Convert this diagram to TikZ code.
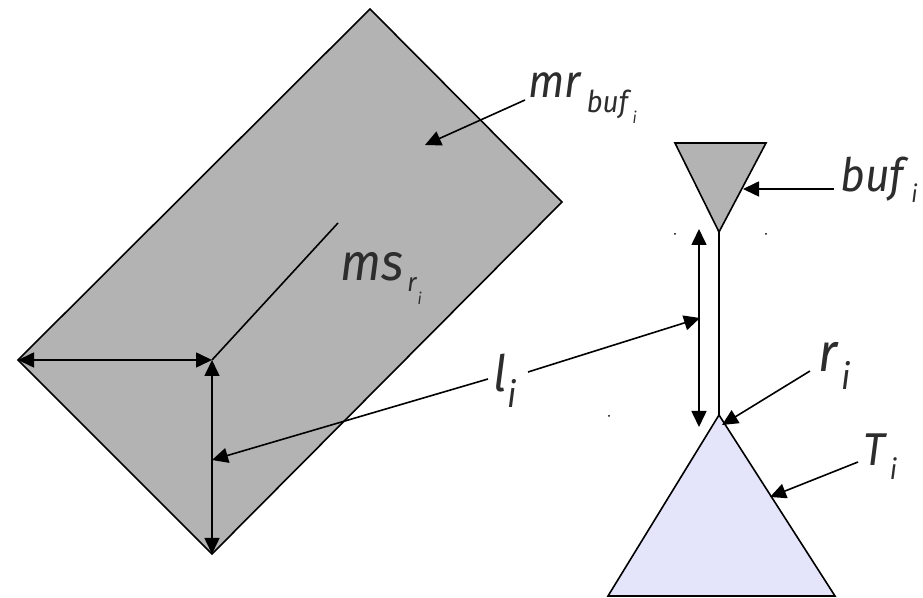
\documentclass[tikz,border=0pt]{standalone}
\usepackage{fontspec}
\setmainfont{Fira Sans}
\usepackage{graphicx}
\usetikzlibrary{arrows.meta}
\definecolor{regiongray}{RGB}{179,179,179}
\definecolor{treeblue}{RGB}{228,228,250}
\definecolor{labelgray}{RGB}{45,45,45}
% subscript: gap, drop, size, text
\newcommand{\sublbl}[4]{\hspace{#1}\raisebox{-#2}{\fontsize{#3}{#3}\selectfont #4}}
\newcommand{\narrowlbl}[1]{\scalebox{0.93}[1]{#1}}

\begin{document}
\begin{tikzpicture}[
    x=0.5pt, y=-0.5pt,
    region/.style={draw, line width=0.8pt, line join=miter},
    arrow/.style={-{Triangle[length=8pt,width=7.5pt]}, line width=0.8pt},
    biarrow/.style={{Triangle[length=8pt,width=7.5pt]}-{Triangle[length=8pt,width=7.5pt]}, line width=0.8pt},
    lbl/.style={inner sep=0pt, anchor=base west, text=labelgray, font=\itshape}
  ]
    \useasboundingbox (0,0) rectangle (923,598);

    % memory region of the buffer
    \coordinate (mr-top) at (370,9);
    \coordinate (mr-right) at (562,202);
    \coordinate (mr-bottom) at (212,554);
    \coordinate (mr-left) at (18,360);
    \coordinate (mr-corner) at (212,360);
    \coordinate (ms-end) at (338,223);
    \coordinate (mr-target) at (425,145);
    \filldraw[region, fill=regiongray] (mr-top) -- (mr-right) -- (mr-bottom) -- (mr-left) -- cycle;
    \draw[line width=0.8pt] (ms-end) -- (mr-corner);
    \draw[biarrow] (mr-left) -- (mr-corner);
    \draw[biarrow] (mr-corner) -- (mr-bottom);
    \coordinate (l-target-left) at (212,460);

    % buffer and its link to the tree
    \coordinate (buf-left) at (675,143);
    \coordinate (buf-right) at (766,143);
    \coordinate (buf-tip) at (719,232);
    \coordinate (buf-target) at (743,189);
    \filldraw[region, fill=regiongray] (buf-left) -- (buf-right) -- (buf-tip) -- cycle;

    \coordinate (tree-top) at (719,415);
    \coordinate (tree-left) at (608,596);
    \coordinate (tree-right) at (835,596);
    \coordinate (tree-target) at (770,497);
    \coordinate (root-target) at (722,425);
    \filldraw[region, fill=treeblue] (tree-top) -- (tree-right) -- (tree-left) -- cycle;
    \draw[line width=0.8pt] (buf-tip) -- (tree-top);

    \coordinate (l-top) at (699,229);
    \coordinate (l-bottom) at (699,427);
    \coordinate (l-target-right) at (700,318);
    \draw[biarrow] (l-top) -- (l-bottom);

    \fill (675,234) circle (1);
    \fill (766,234) circle (1);
    \fill (609,416) circle (1);

    % labels
    \node[lbl, font=\itshape\fontsize{26}{26}\selectfont] (ms-label) at (340,281)
      {\narrowlbl{ms\sublbl{2pt}{5.5pt}{13pt}{r\sublbl{0.5pt}{6.5pt}{8pt}{i}}}};
    \node[lbl, font=\itshape\fontsize{23}{23}\selectfont] (mr-label) at (528,98)
      {\narrowlbl{mr\sublbl{3pt}{7.5pt}{15pt}{buf\sublbl{2.5pt}{5.5pt}{8pt}{i}}}};
    \node[lbl, font=\itshape\fontsize{23}{23}\selectfont] (buf-label) at (840,192)
      {\narrowlbl{buf\sublbl{4pt}{5.5pt}{12pt}{i}}};
    \node[lbl, font=\itshape\fontsize{25}{25}\selectfont] (l-label) at (493,392)
      {\narrowlbl{l\sublbl{0.5pt}{8pt}{18pt}{i}}};
    \node[lbl, font=\itshape\fontsize{27}{27}\selectfont] (r-label) at (818,372)
      {\narrowlbl{r\sublbl{2pt}{9pt}{18pt}{i}}};
    \node[lbl, font=\itshape\fontsize{23}{23}\selectfont] (t-label) at (863,466)
      {\narrowlbl{T\sublbl{2.5pt}{7pt}{14pt}{i}}};

    % pointers
    \draw[arrow] ([shift={(-3,2)}]mr-label.base west) -- (mr-target);
    \draw[arrow] ([shift={(-6,-3)}]buf-label.base west) -- (buf-target);
    \draw[arrow] ([shift={(-5,-13)}]l-label.base west) -- (l-target-left);
    \draw[arrow] ([shift={(35,-20)}]l-label.base west) -- (l-target-right);
    \draw[arrow] ([shift={(-8,-1)}]r-label.base west) -- (root-target);
    \draw[arrow] ([shift={(-5,-4)}]t-label.base west) -- (tree-target);
  \end{tikzpicture}
\end{document}
